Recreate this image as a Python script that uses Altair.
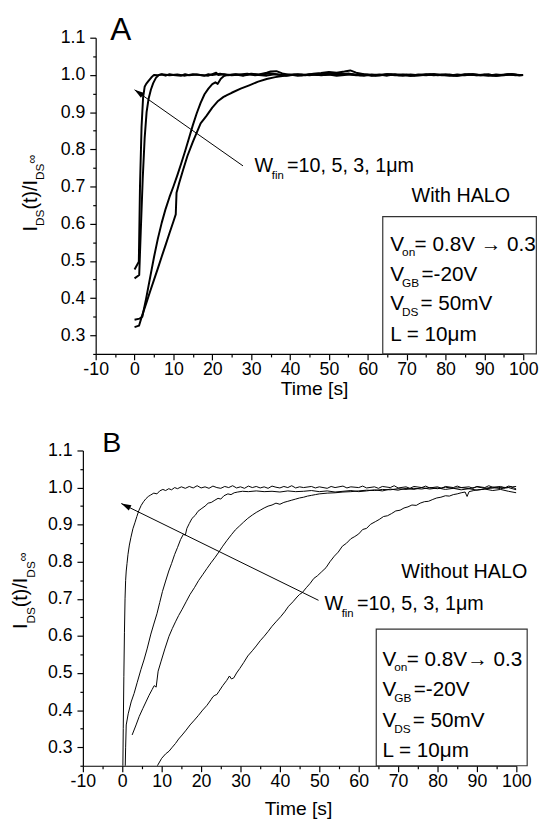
import math
import altair as alt
import pandas as pd

FONT = "Liberation Sans"

# ---------------- axis values ----------------
X_TICKS = [-10, 0, 10, 20, 30, 40, 50, 60, 70, 80, 90, 100]
X_MINOR = [-5, 5, 15, 25, 35, 45, 55, 65, 75, 85, 95]
Y_TICKS = [0.3, 0.4, 0.5, 0.6, 0.7, 0.8, 0.9, 1.0, 1.1]
Y_MINOR = [0.25, 0.35, 0.45, 0.55, 0.65, 0.75, 0.85, 0.95, 1.05]
X_DOMAIN = [-10, 100]
Y_DOMAIN = [0.25, 1.1]

WFIN = ["1 μm", "3 μm", "5 μm", "10 μm"]

# ---------------- panel A : with HALO  (time [s], I_DS(t)/I_DS_inf) ----------------
A_1UM = [(0, 0.477), (1.1, 0.498), (1.4, 0.70), (1.8, 0.86), (2.2, 0.94), (2.6, 0.968), (3.0, 0.976),
         (3.6, 0.984), (4.3, 0.993), (5.0, 1.0), (6, 0.999), (7, 1.001), (8, 0.998), (9, 1.002), (10, 1.0),
         (12, 0.998), (13, 1.002), (14, 0.999), (16, 1.001), (18, 0.998), (19, 1.002), (20, 1.0), (22, 1.003),
         (24, 0.999), (26, 1.001), (28, 0.998), (30, 1.002), (32, 1.0), (34, 0.998), (36, 1.002), (38, 0.999),
         (40, 1.001), (42, 0.998), (44, 1.0), (46, 1.002), (48, 0.999), (50, 1.001), (52, 0.998), (54, 1.0),
         (56, 1.002), (58, 0.999), (60, 1.001), (62, 0.998), (64, 1.0), (66, 1.002), (68, 0.999), (70, 1.001),
         (72, 0.998), (74, 1.0), (76, 1.002), (78, 0.999), (80, 1.001), (82, 0.998), (84, 1.0), (86, 1.002),
         (88, 0.999), (90, 1.001), (92, 0.998), (94, 1.0), (96, 1.002), (98, 0.999), (100, 1.0)]
A_3UM = [(0, 0.453), (1.2, 0.462), (1.6, 0.58), (2.1, 0.72), (2.6, 0.83), (3.1, 0.90), (3.6, 0.935),
         (4.2, 0.96), (4.8, 0.978), (5.5, 0.992), (6.3, 1.0), (7, 1.002), (9, 0.999), (11, 1.001), (13, 0.998),
         (15, 1.002), (17, 1.0), (19, 0.998), (21, 1.006), (21.5, 1.0), (23, 1.002), (25, 0.999), (27, 1.001),
         (29, 1.003), (31, 0.999), (33, 1.002), (35, 1.004), (37, 1.001), (39, 0.998), (41, 1.001), (43, 0.999),
         (45, 1.002), (47, 1.0), (49, 1.003), (51, 1.001), (53, 1.004), (55, 1.002), (57, 0.999), (59, 1.001),
         (61, 0.998), (63, 1.0), (65, 1.002), (67, 0.999), (69, 1.001), (71, 0.998), (73, 1.0), (75, 1.002),
         (77, 0.999), (79, 1.001), (81, 1.0), (83, 0.998), (85, 1.002), (87, 1.0), (89, 0.999), (91, 1.001),
         (93, 0.998), (95, 1.0), (97, 1.002), (99, 0.999), (100, 1.0)]
A_5UM = [(0, 0.342), (1.3, 0.345), (2.0, 0.35), (3.0, 0.40), (4.0, 0.455), (5.0, 0.51), (6.0, 0.56),
         (7.0, 0.603), (8.0, 0.64), (9.0, 0.672), (10.0, 0.70), (11.0, 0.73), (12.0, 0.762), (13.0, 0.795),
         (14.0, 0.83), (15.0, 0.865), (16.0, 0.897), (17.0, 0.925), (18.0, 0.948), (19.0, 0.963), (20.0, 0.975),
         (20.8, 0.98), (21.4, 0.976), (22.2, 0.99), (23.0, 0.997), (24.0, 1.0), (26, 1.002), (28, 0.999),
         (30, 1.003), (32, 1.001), (34, 1.006), (35, 1.009), (36.5, 1.01), (38, 1.004), (40, 1.0), (42, 1.002),
         (44, 0.999), (46, 1.003), (48, 1.005), (50, 1.008), (52, 1.006), (54, 1.009), (55.5, 1.012),
         (57, 1.006), (59, 1.002), (61, 0.999), (63, 1.001), (65, 0.998), (67, 1.002), (69, 1.0), (71, 0.998),
         (73, 1.001), (75, 0.999), (77, 1.002), (79, 1.0), (81, 0.998), (83, 1.001), (85, 0.999), (87, 1.002),
         (89, 1.0), (91, 0.998), (93, 1.001), (95, 0.999), (97, 1.002), (99, 1.0), (100, 1.0)]
A_10UM = [(0, 0.322), (1.15, 0.326), (2, 0.355), (3, 0.386), (4, 0.418), (5, 0.449), (6, 0.48), (7, 0.512),
          (8, 0.543), (9, 0.575), (10, 0.606), (10.6, 0.625), (10.8, 0.683), (11.5, 0.71), (12.5, 0.745),
          (13.6, 0.782), (15, 0.82), (16, 0.845), (17, 0.87), (18.5, 0.89), (20, 0.912), (21.5, 0.93),
          (22.9, 0.941), (23.5, 0.944), (25, 0.952), (27.3, 0.963), (29.5, 0.972), (31.8, 0.982), (34, 0.989),
          (36.2, 0.994), (38.5, 0.998), (40.6, 1.0), (43, 1.001), (45, 0.999), (47, 1.002), (49, 1.0),
          (51, 1.003), (53, 1.001), (55, 1.004), (57, 1.0), (59, 0.998), (61, 1.001), (63, 0.999), (65, 1.002),
          (67, 1.0), (69, 0.998), (71, 1.001), (73, 0.999), (75, 1.0), (77, 1.002), (79, 0.999), (81, 1.001),
          (83, 0.998), (85, 1.0), (87, 1.002), (89, 0.999), (91, 1.001), (93, 0.998), (95, 1.0), (97, 1.002),
          (99, 0.999), (100, 1.0)]

# ---------------- panel B : without HALO ----------------
B_1UM = [(0.12, 0.22), (0.25, 0.35), (0.4, 0.49), (0.55, 0.61), (0.7, 0.70), (0.85, 0.75), (1.0, 0.775),
         (1.2, 0.795), (1.45, 0.82), (1.8, 0.845), (2.2, 0.866), (2.7, 0.889), (3.2, 0.905), (3.7, 0.922),
         (4.2, 0.938), (4.8, 0.952), (5.4, 0.962), (6.0, 0.97), (6.6, 0.976), (7.2, 0.98), (8.0, 0.985),
         (8.8, 0.983), (9.5, 0.991), (10.3, 0.995), (11.0, 0.992), (11.8, 0.997), (12.5, 0.994), (13.3, 1.0),
         (14, 0.997), (15, 1.002), (16, 0.998), (17, 1.003), (18, 0.999), (19, 1.005), (20, 0.999), (21, 1.002),
         (22, 0.998), (23, 1.004), (24, 1.0), (25, 0.998), (26, 1.003), (27, 1.0), (28, 1.005), (29, 0.999),
         (30, 1.002), (31, 0.998), (32, 1.004), (33, 1.0), (34, 1.003), (35, 0.999), (36, 1.002), (37, 0.998),
         (38, 1.004), (39, 1.001), (40, 0.999), (41, 1.003), (42, 1.0), (43, 1.005), (44, 0.999), (45, 1.002),
         (46, 1.0), (48, 1.003), (49, 0.999), (50, 1.002), (52, 0.998), (53, 1.003), (54, 1.0), (56, 1.004),
         (57, 0.999), (58, 1.002), (60, 1.0), (61, 1.004), (62, 0.999), (64, 1.002), (65, 0.998), (66, 1.003),
         (68, 1.0), (69, 1.005), (70, 0.999), (72, 1.002), (73, 0.998), (74, 1.003), (76, 1.0), (77, 1.004),
         (78, 0.999), (80, 1.002), (81, 0.998), (82, 1.003), (84, 1.0), (85, 1.004), (86, 1.0), (88, 1.002),
         (89, 0.998), (90, 1.003), (92, 1.0), (93, 1.005), (94, 1.001), (96, 1.003), (97, 0.999), (98, 1.004),
         (99, 1.002), (100, 1.003)]
B_3UM = [(0.7, 0.22), (0.85, 0.30), (1.0, 0.36), (1.5, 0.39), (2.25, 0.422), (3.0, 0.445), (3.8, 0.475),
         (4.75, 0.51), (5.5, 0.535), (6.3, 0.565), (7.25, 0.605), (8.0, 0.632), (8.8, 0.66), (9.5, 0.69),
         (10.2, 0.72), (11.0, 0.748), (11.8, 0.775), (12.5, 0.795), (13.3, 0.82), (14.0, 0.838), (14.8, 0.86),
         (15.5, 0.874), (16.0, 0.872), (16.4, 0.89), (17.0, 0.903), (17.7, 0.917), (18.5, 0.925), (19.2, 0.936),
         (20.2, 0.944), (21.0, 0.95), (21.8, 0.958), (22.6, 0.96), (23.5, 0.966), (24.3, 0.971), (25.0, 0.969),
         (25.8, 0.978), (26.8, 0.983), (27.6, 0.981), (28.4, 0.986), (29.3, 0.988), (30.5, 0.99), (32, 0.989),
         (34, 0.991), (36, 0.989), (38, 0.99), (40, 0.988), (42, 0.991), (44, 0.989), (46, 0.99), (48, 0.992),
         (50, 0.989), (52, 0.991), (54, 0.988), (56, 0.99), (58, 0.992), (60, 0.989), (62, 0.991), (64, 0.994),
         (66, 0.991), (68, 0.996), (70, 0.993), (72, 0.998), (74, 0.995), (76, 1.0), (78, 0.996), (80, 0.999),
         (82, 0.995), (84, 0.998), (86, 0.994), (88, 0.997), (90, 0.993), (92, 0.996), (94, 0.992), (96, 0.995),
         (98, 0.99), (100, 0.986)]
B_5UM = [(2.5, 0.333), (3.5, 0.36), (4.3, 0.383), (5.2, 0.404), (6.0, 0.422), (6.8, 0.44), (7.6, 0.456),
         (8.1, 0.466), (8.6, 0.462), (9.1, 0.505), (9.8, 0.53), (10.8, 0.565), (11.85, 0.599), (12.7, 0.62),
         (13.5, 0.638), (14.3, 0.655), (15.2, 0.672), (16.2, 0.692), (17.2, 0.712), (18.3, 0.73), (19.35, 0.749),
         (20.4, 0.765), (21.5, 0.782), (22.5, 0.797), (23.5, 0.811), (24.5, 0.826), (25.5, 0.842), (26.6, 0.858),
         (27.7, 0.873), (28.7, 0.886), (29.8, 0.897), (30.8, 0.907), (31.85, 0.917), (33.0, 0.926), (34.0, 0.933),
         (35.0, 0.939), (36.0, 0.945), (37.0, 0.95), (38.0, 0.953), (39.0, 0.958), (40.0, 0.955), (41.0, 0.96),
         (42.0, 0.963), (43.0, 0.966), (44.0, 0.969), (45.0, 0.972), (46.0, 0.974), (47.0, 0.977), (48.0, 0.979),
         (49.0, 0.981), (50.0, 0.983), (52, 0.985), (54, 0.986), (56, 0.988), (58, 0.989), (60, 0.991),
         (62, 0.993), (64, 0.992), (66, 0.995), (68, 0.994), (70, 0.997), (72, 0.995), (74, 0.998), (76, 0.996),
         (78, 1.0), (80, 0.997), (82, 1.001), (84, 0.998), (86, 1.0), (88, 0.997), (90, 1.002), (92, 0.998),
         (94, 1.001), (96, 0.997), (98, 1.0), (100, 0.994)]
B_10UM = [(8.3, 0.235), (8.9, 0.25), (10.0, 0.27), (11.0, 0.282), (11.85, 0.289), (12.7, 0.3), (13.5, 0.31),
          (14.3, 0.322), (15.2, 0.333), (16.2, 0.346), (17.2, 0.36), (18.3, 0.373), (19.35, 0.386), (20.4, 0.4),
          (21.5, 0.413), (22.5, 0.428), (23.0, 0.436), (23.5, 0.44), (24.0, 0.442), (24.5, 0.45), (25.5, 0.466),
          (26.5, 0.48), (27.2, 0.492), (27.7, 0.484), (28.3, 0.487), (29.0, 0.5), (29.8, 0.512), (30.8, 0.528),
          (31.85, 0.546), (33.0, 0.56), (34.0, 0.573), (35.0, 0.587), (36.0, 0.599), (37.0, 0.612), (38.0, 0.626),
          (39.0, 0.638), (40.2, 0.652), (41.2, 0.665), (42.2, 0.68), (43.3, 0.692), (44.35, 0.705), (45.0, 0.712),
          (45.7, 0.717), (46.7, 0.73), (47.7, 0.742), (48.6, 0.755), (49.5, 0.762), (50.5, 0.772), (51.7, 0.784),
          (52.7, 0.8), (53.8, 0.815), (54.8, 0.826), (55.85, 0.842), (56.9, 0.85), (58.0, 0.862), (59.0, 0.868),
          (60.0, 0.875), (61.0, 0.887), (62.0, 0.89), (63.0, 0.901), (64.2, 0.908), (65.2, 0.914), (66.3, 0.922),
          (67.3, 0.924), (68.35, 0.93), (69.4, 0.937), (70.5, 0.939), (71.5, 0.945), (72.5, 0.948), (73.5, 0.953),
          (74.6, 0.952), (75.6, 0.958), (76.7, 0.962), (77.7, 0.963), (78.8, 0.968), (79.8, 0.972), (80.85, 0.974),
          (82.0, 0.978), (83.0, 0.977), (84.0, 0.981), (85.0, 0.983), (86.0, 0.986), (87.0, 0.988), (87.5, 0.976),
          (88.0, 0.989), (89.2, 0.992), (90.2, 0.994), (91.3, 0.995), (92.3, 0.997), (93.35, 0.998), (94.4, 0.999),
          (95.5, 1.0), (96.5, 1.001), (97.5, 1.0), (98.5, 1.002), (99.2, 1.0), (100, 0.996)]

# ---------------- texts ----------------
A_LINES = [("V", "on", "= 0.8V → 0.3"), ("V", "GB", "=-20V"), ("V", "DS", "= 50mV"), ("L = 10μm", "", "")]
B_LINES = [("V", "on", "= 0.8V→ 0.3"), ("V", "GB", "=-20V"), ("V", "DS", "= 50mV"), ("L = 10μm", "", "")]
WFIN_TEXT = ("W", "fin", "=10, 5, 3, 1μm")

# layout constants (pixels relative to each plot's top-left corner)
CFG_A = dict(width=434, height=321, stroke=2.0, letter=("A", 14.7, 2.0, 32),
             note=("With HALO", 320.7, 166.7), wfin=(161.3, 136.0),
             box=(291.4, 181.7, 447.3, 321), box_x=299.0, box_base=[216.0, 246.7, 276.7, 307.4],
             lines=A_LINES, ytitle=(-59.7, 196.7), xtitle=(221.7, 41),
             arrow=(27.9, 0.7555, 0.0, 0.96), left_guard=-88.5)
CFG_B = dict(width=440, height=320, stroke=1.0, letter=("B", 19.7, 1.6, 29),
             note=("Without HALO", 323.3, 129.3), wfin=(245.2, 161.6),
             box=(297.8, 181.3, 451.0, 320), box_x=304.1, box_base=[218.3, 249.6, 280.6, 311.6],
             lines=B_LINES, ytitle=(-56.5, 181.3), xtitle=(218.3, 50),
             arrow=(49.8, 0.696, -0.25, 0.957), left_guard=-75.5)

CHAR_W = {"I": 0.278, "D": 0.722, "S": 0.667, "(": 0.333, "t": 0.278, ")": 0.333, "/": 0.278}
ONE = pd.DataFrame({"k": [0]})


def txt(s, x, y, size, angle=0):
    kw = dict(text=s, font=FONT, fontSize=size, color="black", align="left", baseline="alphabetic")
    if angle:
        kw["angle"] = angle
    return alt.Chart(ONE).mark_text(**kw).encode(x=alt.value(x), y=alt.value(y))


def ytitle(xb, y0):
    out = []
    y = y0
    for s, fs, dx in [("I", 20, 0.0), ("DS", 12, 7.7), ("(t)/I", 20, 0.0), ("DS", 12, 7.7)]:
        out.append(txt(s, xb + dx, y, fs, angle=270))
        y -= sum(CHAR_W[c] for c in s) * fs
    out.append(txt("∞", xb - 0.5, y, 13, angle=270))
    return out


def panel(curves, cfg):
    rows = []
    for name, pts in zip(WFIN, curves):
        for i, (t, v) in enumerate(pts):
            rows.append({"series": name, "i": i, "t": t, "v": v})
    df = pd.DataFrame(rows)
    W, H = cfg["width"], cfg["height"]
    xs = alt.Scale(domain=X_DOMAIN, nice=False, zero=False)
    ys = alt.Scale(domain=Y_DOMAIN, nice=False, zero=False)
    common = dict(domainColor="black", domainWidth=1.2, tickColor="black", tickWidth=1.2, grid=False,
                  labelFlush=False, labelOverlap=False, labelFont=FONT, labelFontSize=18, labelColor="black")
    xaxis = alt.Axis(values=X_TICKS, tickSize=6, labelPadding=1, labelExpr="'' + datum.value",
                     title="Time [s]", titleFont=FONT, titleFontSize=19.5, titleFontWeight="normal",
                     titleColor="black", titleX=cfg["xtitle"][0], titleY=cfg["xtitle"][1],
                     titleBaseline="alphabetic", titleAlign="center", orient="bottom", **common)
    yaxis = alt.Axis(values=Y_TICKS, tickSize=6, labelPadding=5, labelExpr="format(datum.value, '.1f')",
                     title=None, orient="left", **common)
    lines = alt.Chart(df).mark_line(color="black", strokeWidth=cfg["stroke"], clip=True,
                                    strokeJoin="round").encode(
        x=alt.X("t:Q", scale=xs, axis=xaxis),
        y=alt.Y("v:Q", scale=ys, axis=yaxis),
        detail="series:N",
        order="i:Q",
    )
    minor = alt.Chart(df).mark_point(opacity=0, size=1).encode(
        x=alt.X("t:Q", scale=xs, axis=alt.Axis(values=X_MINOR, tickSize=3, labels=False, domain=False,
                                               title=None, orient="bottom", tickColor="black",
                                               tickWidth=1.2, grid=False)),
        y=alt.Y("v:Q", scale=ys, axis=alt.Axis(values=Y_MINOR, tickSize=3, labels=False, domain=False,
                                               title=None, orient="left", tickColor="black",
                                               tickWidth=1.2, grid=False)),
    )
    a = cfg["arrow"]
    adf = pd.DataFrame([{"t0": a[0], "v0": a[1], "t1": a[2], "v1": a[3]}])
    sx = W / (X_DOMAIN[1] - X_DOMAIN[0])
    sy = H / (Y_DOMAIN[1] - Y_DOMAIN[0])
    ang = math.degrees(math.atan2((a[2] - a[0]) * sx, (a[3] - a[1]) * sy)) % 360
    shaft = alt.Chart(adf).mark_rule(color="black", strokeWidth=1).encode(
        x=alt.X("t0:Q", scale=xs, axis=None), y=alt.Y("v0:Q", scale=ys, axis=None),
        x2="t1:Q", y2="v1:Q")
    head = alt.Chart(adf).mark_point(shape="M0,0L0.6,2L-0.6,2Z", size=100, filled=True, color="black",
                                     opacity=1, strokeWidth=0, angle=ang).encode(
        x=alt.X("t1:Q", scale=xs, axis=None), y=alt.Y("v1:Q", scale=ys, axis=None))
    bx = cfg["box"]
    box = alt.Chart(ONE).mark_rect(fill="white", stroke="#333333", strokeWidth=1.2).encode(
        x=alt.value(bx[0]), x2=alt.value(bx[2]), y=alt.value(bx[1]), y2=alt.value(bx[3]))

    layers = [lines, minor, box, shaft, head]
    s, lx, ly, lfs = cfg["letter"]
    layers.append(txt(s, lx, ly, lfs))
    layers.append(txt(cfg["note"][0], cfg["note"][1], cfg["note"][2], 20))
    wx, wy = cfg["wfin"]
    layers += [txt(WFIN_TEXT[0], wx, wy, 20), txt(WFIN_TEXT[1], wx + 17.5, wy + 7, 11.5),
               txt(WFIN_TEXT[2], wx + 33, wy, 20)]
    vx = cfg["box_x"]
    main_dx = [24.7, 31.7, 30.7, 0]
    for (big, sub, rest), base, mdx in zip(cfg["lines"], cfg["box_base"], main_dx):
        layers.append(txt(big, vx, base, 21))
        if sub:
            layers.append(txt(sub, vx + 12, base + 6, 12))
            layers.append(txt(rest, vx + mdx, base, 21))
    layers += ytitle(*cfg["ytitle"])
    # invisible (white) guard that fixes how far the panel reaches to the left
    g = cfg["left_guard"]
    layers.append(alt.Chart(ONE).mark_rule(color="white", strokeWidth=1).encode(
        x=alt.value(g), y=alt.value(0), y2=alt.value(1)))
    return alt.layer(*layers).resolve_axis(x="independent", y="independent").properties(width=W, height=H)


def spacer():
    return alt.Chart(ONE).mark_rect(opacity=0).encode(
        x=alt.value(0), x2=alt.value(1), y=alt.value(0), y2=alt.value(1)).properties(width=1, height=1)


pa = panel([A_1UM, A_3UM, A_5UM, A_10UM], CFG_A)
pb = panel([B_1UM, B_3UM, B_5UM, B_10UM], CFG_B)

chart = alt.concat(spacer(), pa, spacer(), pb, columns=2, align="none",
                   spacing={"row": 31, "column": -1}, bounds="full").properties(
    padding=0, background="white").configure_view(strokeWidth=0)

chart.save("out.html", embed_options={"renderer": "svg", "actions": False})
